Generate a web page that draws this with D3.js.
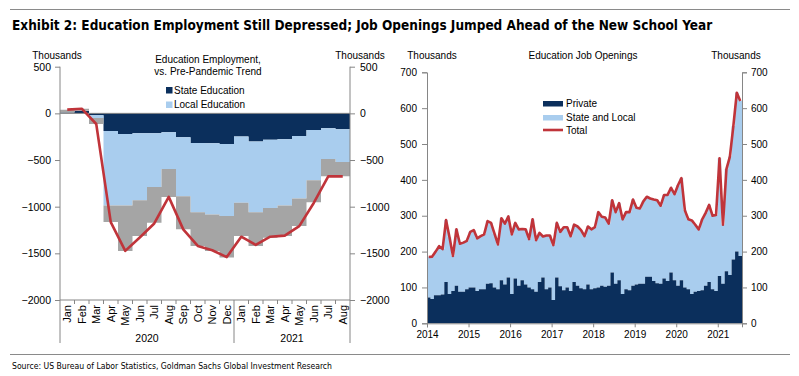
<!DOCTYPE html>
<html><head><meta charset="utf-8">
<script src="https://cdn.jsdelivr.net/npm/d3@7"></script>
<style>
body{margin:0;background:#fff;}
svg{display:block;}
text{font-family:"Liberation Sans",Arial,sans-serif;fill:#000;}
.narrow{font-family:"Liberation Sans Narrow","Arial Narrow","DejaVu Sans Condensed",sans-serif;}
</style></head><body>
<svg id="c" width="799" height="376"></svg>
<script>
// ---------- DATA ----------
const titleText = "Exhibit 2: Education Employment Still Depressed; Job Openings Jumped Ahead of the New School Year";
const sourceText = "Source: US Bureau of Labor Statistics, Goldman Sachs Global Investment Research";

// Left chart: Jan 2020 - Aug 2021, thousands vs pre-pandemic trend
const monthLabels = ["Jan","Feb","Mar","Apr","May","Jun","Jul","Aug","Sep","Oct","Nov","Dec",
                     "Jan","Feb","Mar","Apr","May","Jun","Jul","Aug"];
const yearLabels = ["2020","2021"];
const yearSpans = [12, 8];
const stateEdu = [8, 25, -20, -188, -220, -213, -213, -203, -256, -318, -320, -327, -249, -302, -284, -277, -242, -178, -160, -170];
const localEdu = [2, 3, -30, -800, -768, -718, -576, -394, -632, -741, -764, -774, -710, -757, -729, -711, -671, -540, -330, -352];
const otherEdu = [30, 22, -64, -177, -486, -384, -383, -298, -355, -362, -390, -444, -356, -362, -319, -327, -295, -234, -185, -153];
const totalEdu = [40, 50, -114, -1165, -1474, -1330, -1180, -895, -1243, -1421, -1467, -1540, -1322, -1410, -1322, -1310, -1208, -960, -675, -675];
const leftTicks = [500, 0, -500, -1000, -1500, -2000];

// Right chart: monthly Jan 2014 - Jul 2021, thousands
const jobYears = ["2014","2015","2016","2017","2018","2019","2020","2021"];
const jobTotal = [
  185,186,200,215,207,288,240,188,262,222,225,230,
  255,260,237,243,248,285,280,250,220,293,278,298,
  248,280,262,263,262,235,290,232,252,242,245,245,
  218,280,255,268,268,243,275,270,260,243,270,262,
  268,310,297,295,278,343,310,335,290,310,310,345,
  322,320,340,353,348,345,343,328,358,358,378,360,
  385,405,315,290,287,275,262,290,308,330,300,302,
  460,275,430,465,550,643,620];
const jobPrivate = [
  72,68,78,78,80,115,82,90,105,88,88,95,
  100,100,90,95,95,110,112,100,95,120,108,128,
  82,125,105,120,108,100,95,88,115,128,95,100,
  65,128,103,92,100,90,115,105,98,95,108,95,
  98,100,105,102,105,142,110,120,82,95,92,105,
  108,110,110,130,130,118,112,110,125,118,142,120,
  105,120,100,95,82,88,90,92,105,115,95,90,
  132,110,145,135,178,200,188];
const rightTicks = [0,100,200,300,400,500,600,700];

// ---------- STYLE ----------
const NAVY = "#0b2f5c", LIGHT = "#a9cdee", GRAY = "#a5a5a5", RED = "#c0343a", AX = "#868686";

const svg = d3.select("#c");

// frame
svg.append("line").attr("x1",10).attr("x2",790).attr("y1",9.5).attr("y2",9.5).attr("stroke","#8a8a8a").attr("stroke-width",1);
svg.append("text").attr("class","narrow").attr("x",12).attr("y",29.5)
  .style("font-weight","bold").style("font-size","13.5px").text(titleText);
svg.append("line").attr("x1",10).attr("x2",790).attr("y1",354.5).attr("y2",354.5).attr("stroke","#8a8a8a").attr("stroke-width",1);
svg.append("text").attr("class","narrow").attr("x",12).attr("y",368.5)
  .attr("textLength",320).attr("lengthAdjust","spacingAndGlyphs")
  .style("font-size","9.5px").text(sourceText);

// ================= LEFT CHART =================
const LX0 = 60, LX1 = 350;
const xL = d3.scaleBand().domain(d3.range(monthLabels.length)).range([LX0, LX1]);
const yL = d3.scaleLinear().domain([-2000, 500]).range([300, 66.7]);
const bwL = xL.bandwidth();

const rowsL = monthLabels.map((m, i) => ({state: stateEdu[i], local: localEdu[i], other: otherEdu[i]}));
const seriesL = d3.stack().keys(["state","local","other"]).offset(d3.stackOffsetDiverging)(rowsL);
const colL = {state: NAVY, local: LIGHT, other: GRAY};

const stepAreaL = d3.area().curve(d3.curveStepAfter)
  .x(d => d.x).y0(d => yL(d.y0)).y1(d => yL(d.y1));
seriesL.forEach(s => {
  const pts = s.map((d, i) => ({x: xL(i), y0: d[0], y1: d[1]}));
  const last = s[s.length - 1];
  pts.push({x: LX1, y0: last[0], y1: last[1]});
  svg.append("path").attr("d", stepAreaL(pts)).attr("fill", colL[s.key]);
});

// zero line
svg.append("line").attr("x1",LX0).attr("x2",LX1).attr("y1",yL(0)).attr("y2",yL(0)).attr("stroke",AX).attr("stroke-width",1);

// total line
svg.append("path").datum(totalEdu)
  .attr("d", d3.line().x((d, i) => xL(i) + bwL / 2).y(d => yL(d)))
  .attr("fill","none").attr("stroke",RED).attr("stroke-width",2.6).attr("stroke-linejoin","round");

// axes
const axL = svg.append("g").attr("transform",`translate(${LX0},0)`)
  .call(d3.axisLeft(yL).tickValues(leftTicks).tickSize(5).tickPadding(4).tickFormat(d3.format("d")));
const axR = svg.append("g").attr("transform",`translate(${LX1},0)`)
  .call(d3.axisRight(yL).tickValues(leftTicks).tickSize(5).tickPadding(5).tickFormat(d3.format("d")));
[axL, axR].forEach(a => {
  a.select(".domain").remove();
  a.selectAll("line").attr("stroke",AX);
  a.selectAll("text").style("font-size","10.5px").style("font-family",'"Liberation Sans",Arial,sans-serif');
});
svg.append("line").attr("x1",LX0).attr("x2",LX0).attr("y1",66.7).attr("y2",343).attr("stroke",AX);
svg.append("line").attr("x1",LX1).attr("x2",LX1).attr("y1",66.7).attr("y2",343).attr("stroke",AX);
svg.append("line").attr("x1",LX0).attr("x2",LX1).attr("y1",300).attr("y2",300).attr("stroke",AX);

// month ticks & labels
monthLabels.forEach((m, i) => {
  if (i > 0) {
    const bx = xL(i);
    const isYear = (i === yearSpans[0]);
    svg.append("line").attr("x1",bx).attr("x2",bx).attr("y1",300).attr("y2", isYear ? 343 : 304).attr("stroke",AX);
  }
  const cx = xL(i) + bwL / 2 + 4;
  svg.append("text").attr("transform",`translate(${cx},305) rotate(-90)`)
    .attr("text-anchor","end").style("font-size","11px").text(m);
});
let acc = 0;
yearLabels.forEach((y, k) => {
  const xa = xL(acc), xb = (acc + yearSpans[k] >= monthLabels.length) ? LX1 : xL(acc + yearSpans[k]);
  svg.append("text").attr("x",(xa + xb) / 2).attr("y",341.5).attr("text-anchor","middle").style("font-size","10.5px").text(y);
  acc += yearSpans[k];
});

svg.append("text").attr("x",57).attr("y",59).attr("text-anchor","middle").style("font-size","10px").text("Thousands");
svg.append("text").attr("x",360).attr("y",59).attr("text-anchor","middle").style("font-size","10px").text("Thousands");
svg.append("text").attr("x",208).attr("y",62.5).attr("text-anchor","middle").style("font-size","10px").text("Education Employment,");
svg.append("text").attr("x",208).attr("y",75).attr("text-anchor","middle").style("font-size","10px").text("vs. Pre-Pandemic Trend");
// legend left
[["State Education", NAVY, 93.5], ["Local Education", LIGHT, 108]].forEach(([t, c, y]) => {
  svg.append("rect").attr("x",166).attr("y",y - 6.5).attr("width",6.5).attr("height",6.5).attr("fill",c);
  svg.append("text").attr("x",174).attr("y",y).style("font-size","10px").text(t);
});

// ================= RIGHT CHART =================
const RX0 = 427, RX1 = 742;
const nR = jobTotal.length;
const xR = d3.scaleLinear().domain([0, nR]).range([RX0, RX1]);
const yR = d3.scaleLinear().domain([0, 700]).range([323.3, 72.3]);
const jobStateLocal = jobTotal.map((t, i) => t - jobPrivate[i]);
const rowsR = jobTotal.map((t, i) => ({priv: jobPrivate[i], sl: jobStateLocal[i]}));
const seriesR = d3.stack().keys(["priv","sl"])(rowsR);
const colR = {priv: NAVY, sl: LIGHT};
const stepAreaR = d3.area().curve(d3.curveStepAfter).x(d => d.x).y0(d => yR(d.y0)).y1(d => yR(d.y1));
seriesR.slice().reverse().forEach(s => {
  const pts = s.map((d, i) => ({x: xR(i), y0: d[0], y1: d[1]}));
  const last = s[s.length - 1];
  pts.push({x: RX1, y0: last[0], y1: last[1]});
  svg.append("path").attr("d", stepAreaR(pts)).attr("fill", colR[s.key]);
});
svg.append("path").datum(jobTotal)
  .attr("d", d3.line().x((d, i) => xR(i + 0.5)).y(d => yR(d)))
  .attr("fill","none").attr("stroke",RED).attr("stroke-width",2.6).attr("stroke-linejoin","round");

const raL = svg.append("g").attr("transform",`translate(${RX0},0)`)
  .call(d3.axisLeft(yR).tickValues(rightTicks).tickSize(5).tickPadding(5));
const raR = svg.append("g").attr("transform",`translate(${RX1},0)`)
  .call(d3.axisRight(yR).tickValues(rightTicks).tickSize(5).tickPadding(4));
const raB = svg.append("g").attr("transform",`translate(0,${yR(0)})`)
  .call(d3.axisBottom(xR).tickValues(jobYears.map((y, k) => k * 12)).tickFormat((d, k) => jobYears[k]).tickSize(4).tickPadding(4));
[raL, raR, raB].forEach(a => {
  a.select(".domain").attr("stroke",AX);
  a.selectAll("line").attr("stroke",AX);
  a.selectAll("text").style("font-size","10px").style("font-family",'"Liberation Sans",Arial,sans-serif');
});

svg.append("text").attr("x",432).attr("y",59).attr("text-anchor","middle").style("font-size","10px").text("Thousands");
svg.append("text").attr("x",736).attr("y",59).attr("text-anchor","middle").style("font-size","10px").text("Thousands");
svg.append("text").attr("x",583).attr("y",58.5).attr("text-anchor","middle").style("font-size","10px").text("Education Job Openings");
// legend right
svg.append("rect").attr("x",543).attr("y",101).attr("width",20).attr("height",5.5).attr("fill",NAVY);
svg.append("text").attr("x",566).attr("y",107).style("font-size","10px").text("Private");
svg.append("rect").attr("x",543).attr("y",115).attr("width",20).attr("height",5.5).attr("fill",LIGHT);
svg.append("text").attr("x",566).attr("y",121).style("font-size","10px").text("State and Local");
svg.append("line").attr("x1",543).attr("x2",563).attr("y1",130).attr("y2",130).attr("stroke",RED).attr("stroke-width",2.6);
svg.append("text").attr("x",566).attr("y",134).style("font-size","10px").text("Total");
</script>
</body></html>
